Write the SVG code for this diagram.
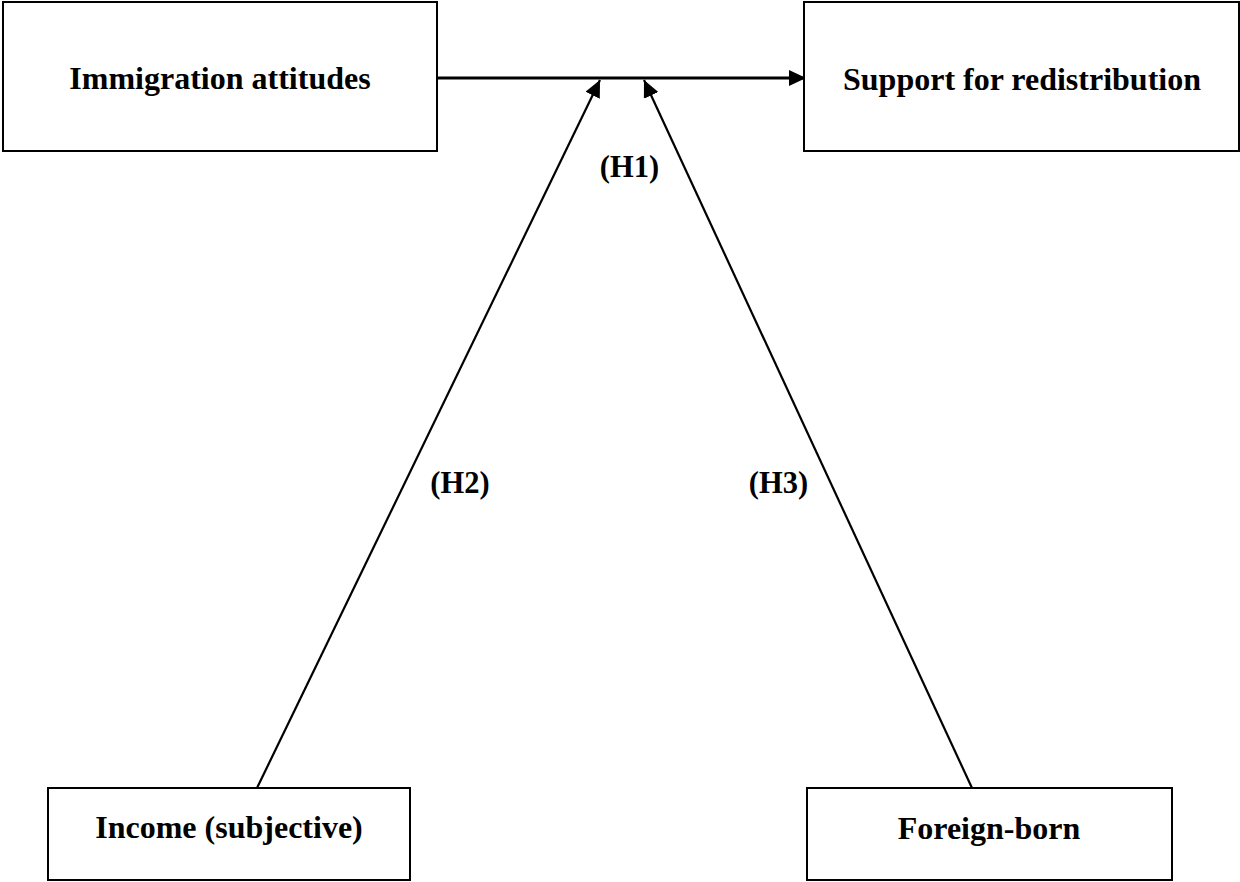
<svg xmlns="http://www.w3.org/2000/svg" width="1240" height="882" viewBox="0 0 1240 882">
<style>
.box{fill:#fff;stroke:#000;stroke-width:2}
.lbl{font-family:"Liberation Serif","Times New Roman",serif;font-weight:bold;font-size:32px;fill:#000;text-anchor:middle}
.h{font-family:"Liberation Serif","Times New Roman",serif;font-weight:bold;font-size:30.5px;fill:#000;text-anchor:middle}
.edge{fill:none;stroke:#000;stroke-width:2.2}
</style>
<defs>
<marker id="ah" markerUnits="userSpaceOnUse" markerWidth="18" markerHeight="16" viewBox="0 0 18 16" refX="17" refY="8" orient="auto">
<path d="M0,0 L17,8 L0,16 Z" fill="#000"/>
</marker>
</defs>
<rect width="1240" height="882" fill="#fff"/>
<g id="connectors">
<line class="edge" x1="438" y1="78" x2="806" y2="78" style="stroke-width:3" marker-end="url(#ah)"/>
<line class="edge" x1="257" y1="788" x2="600" y2="80" marker-end="url(#ah)"/>
<line class="edge" x1="972" y1="788" x2="644" y2="80" marker-end="url(#ah)"/>
</g>
<g id="node-immigration">
<rect class="box" x="3" y="2" width="434" height="149"/>
<text class="lbl" x="220" y="89">Immigration attitudes</text>
</g>
<g id="node-support">
<rect class="box" x="804" y="2" width="435" height="149"/>
<text class="lbl" x="1022" y="90">Support for redistribution</text>
</g>
<g id="node-income">
<rect class="box" x="48" y="788" width="362" height="92"/>
<text class="lbl" x="229" y="838">Income (subjective)</text>
</g>
<g id="node-foreign">
<rect class="box" x="807" y="788" width="365" height="92"/>
<text class="lbl" x="989" y="839">Foreign-born</text>
</g>
<g id="labels">
<text class="h" x="629.5" y="177">(H1)</text>
<text class="h" x="460" y="493">(H2)</text>
<text class="h" x="778.5" y="493">(H3)</text>
</g>
</svg>
